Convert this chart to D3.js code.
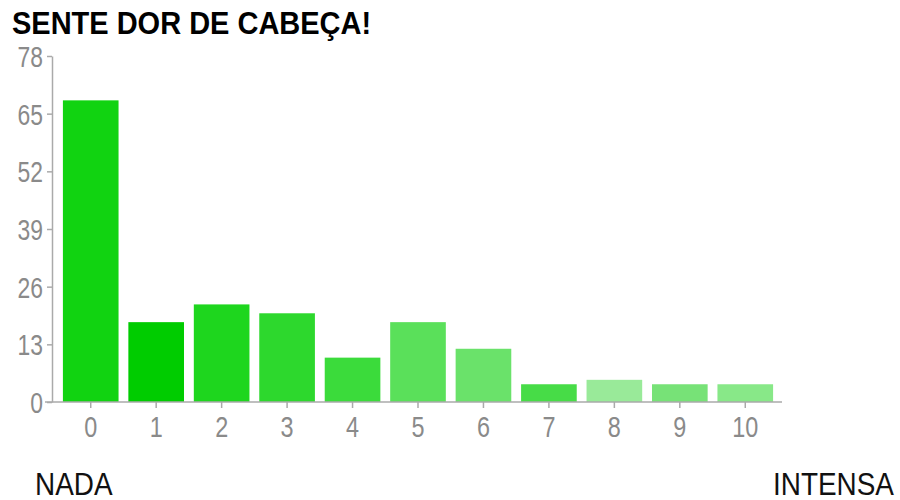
<!DOCTYPE html>
<html>
<head>
<meta charset="utf-8">
<script src="https://cdn.jsdelivr.net/npm/d3@7"></script>
<style>
  html, body { margin: 0; padding: 0; background: #fff; }
  svg { display: block; }
</style>
</head>
<body>
<svg id="chart" width="900" height="500"></svg>
<script>
// Pain scale answers: how many people chose each level
const categories = ["0", "1", "2", "3", "4", "5", "6", "7", "8", "9", "10"];
const counts = [68, 18, 22, 20, 10, 18, 12, 4, 5, 4, 4];
const barColors = ["#11d311", "#00cc00", "#1ed61e", "#2dd82d", "#3bdb3b", "#5ae05a",
                   "#6ae26a", "#47dc47", "#99ea99", "#77e277", "#88e888"];
const yTicks = [0, 13, 26, 39, 52, 65, 78];
const titleText = "SENTE DOR DE CABEÇA!";
const leftLabel = "NADA";
const rightLabel = "INTENSA";

const svg = d3.select("#chart");
const font = "'Liberation Sans', Arial, sans-serif";

const x = d3.scaleBand()
  .domain(categories)
  .range([58, 778])
  .paddingInner(0.15)
  .paddingOuter(0.075);

const y = d3.scaleLinear()
  .domain([0, 78])
  .range([402, 56]);

// bars
svg.append("g")
  .selectAll("rect")
  .data(counts)
  .join("rect")
  .attr("x", (d, i) => x(categories[i]))
  .attr("y", d => y(d))
  .attr("width", x.bandwidth())
  .attr("height", d => y(0) - y(d))
  .attr("fill", (d, i) => barColors[i]);

// y axis
const yAxis = svg.append("g")
  .attr("transform", "translate(52,0)")
  .call(d3.axisLeft(y).tickValues(yTicks).tickSize(5).tickSizeOuter(0));
yAxis.select(".domain").attr("stroke", "#aaa").attr("stroke-width", 1.5);
yAxis.selectAll(".tick line").attr("stroke", "#aaa").attr("stroke-width", 1.5);
// labels are slightly narrow and tall; stretch around the label's anchor point
yAxis.selectAll(".tick text")
  .attr("fill", "#8a8a8a")
  .attr("font-family", font)
  .attr("font-size", 26)
  .attr("x", 0)
  .attr("dy", "0.36em")
  .attr("transform", "translate(-9,0) scale(0.88,1.12)");

// x axis
const xAxis = svg.append("g")
  .attr("transform", `translate(0,${y(0)})`)
  .call(d3.axisBottom(x).tickSize(6).tickSizeOuter(0));
xAxis.select(".domain")
  .attr("d", "M45,0H782")
  .attr("stroke", "#aaa").attr("stroke-width", 1.5);
xAxis.selectAll(".tick line").attr("stroke", "#aaa").attr("stroke-width", 1.5);
xAxis.selectAll(".tick text")
  .attr("fill", "#8a8a8a")
  .attr("font-family", font)
  .attr("font-size", 26)
  .attr("y", 0)
  .attr("dy", null)
  .attr("transform", "translate(0,35) scale(0.9,1.15)");

// title
svg.append("text")
  .attr("transform", "translate(12,34) scale(1,1.05)")
  .attr("font-family", font)
  .attr("font-weight", "bold")
  .attr("font-size", 29)
  .attr("fill", "#000")
  .text(titleText);

// scale end captions
svg.append("text")
  .attr("transform", "translate(35,495) scale(0.9,1)")
  .attr("font-family", font)
  .attr("font-size", 31)
  .attr("fill", "#111")
  .text(leftLabel);

svg.append("text")
  .attr("transform", "translate(773,495) scale(0.9,1)")
  .attr("font-family", font)
  .attr("font-size", 31)
  .attr("fill", "#111")
  .text(rightLabel);
</script>
</body>
</html>
